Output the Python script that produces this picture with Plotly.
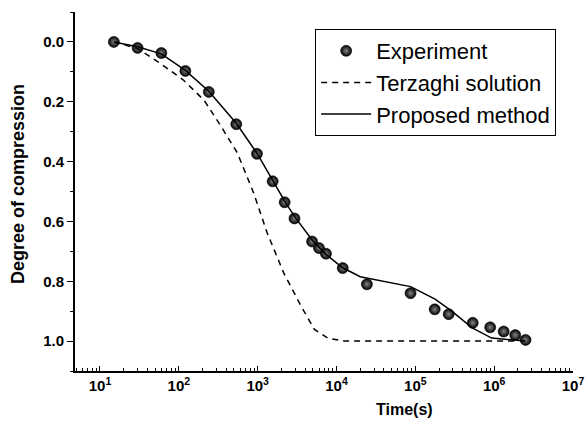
import plotly.graph_objects as go

# Measured consolidation data
exp_time = [15, 30, 60, 121, 240, 535, 980, 1550, 2200, 2930, 4900, 6000, 7350,
            12000, 24300, 87000, 176000, 265000, 535000, 890000, 1.32e6, 1.85e6, 2.5e6]
exp_degree = [0.0, 0.02, 0.037, 0.097, 0.167, 0.275, 0.374, 0.466, 0.536, 0.59, 0.667,
              0.689, 0.708, 0.756, 0.81, 0.84, 0.894, 0.91, 0.939, 0.954, 0.968, 0.98, 0.996]

# Terzaghi one-dimensional consolidation curve
terz_time = [15, 30, 57, 115, 209, 339, 550, 890, 1318, 2140, 3550, 5250, 7760, 12600, 1.82e6]
terz_degree = [0.0, 0.022, 0.07, 0.128, 0.195, 0.28, 0.37, 0.505, 0.638, 0.772, 0.883,
               0.961, 0.99, 1.0, 1.0]

# Proposed method curve
prop_time = [15, 30, 60, 121, 240, 535, 980, 1550, 2200, 2930, 4900, 7350, 12000,
             20000, 35000, 87000, 178000, 290000, 520000, 930000, 2.5e6]
prop_degree = [0.0, 0.016, 0.04, 0.095, 0.165, 0.272, 0.372, 0.462, 0.532, 0.583, 0.662,
               0.71, 0.755, 0.785, 0.797, 0.818, 0.86, 0.9, 0.955, 0.99, 1.0]

y_ticks = [0.0, 0.2, 0.4, 0.6, 0.8, 1.0]
y_ticklabels = ["0.0", "0.2", "0.4", "0.6", "0.8", "1.0"]
y_minor = [-0.1, 0.1, 0.3, 0.5, 0.7, 0.9, 1.1]
x_ticks = [1e1, 1e2, 1e3, 1e4, 1e5, 1e6, 1e7]
x_ticklabels = ["10<sup>1</sup>", "10<sup>2</sup>", "10<sup>3</sup>", "10<sup>4</sup>",
                "10<sup>5</sup>", "10<sup>6</sup>", "10<sup>7</sup>"]

FONT = "Arial, Liberation Sans, sans-serif"

fig = go.Figure()
fig.add_trace(go.Scatter(
    x=exp_time, y=exp_degree, mode="markers", name="Experiment",
    marker=dict(size=11, color="#000000", symbol="circle",
                gradient=dict(type="radial", color="#858585"),
                line=dict(width=0.6, color="#000000")),
))
fig.add_trace(go.Scatter(
    x=terz_time, y=terz_degree, mode="lines", name="Terzaghi solution",
    line=dict(color="#000000", width=1.5, dash="6px,5px"),
))
fig.add_trace(go.Scatter(
    x=prop_time, y=prop_degree, mode="lines", name="Proposed method",
    line=dict(color="#000000", width=1.5),
))

fig.update_layout(
    width=587, height=421,
    margin=dict(l=75, r=14, t=12, b=50),
    paper_bgcolor="white", plot_bgcolor="white",
    font=dict(family=FONT, color="#000000"),
    showlegend=True,
    legend=dict(
        x=(315 - 75) / 497.7, y=1 - (29 - 12) / 359, xanchor="left", yanchor="top",
        bgcolor="white", bordercolor="#000000", borderwidth=1,
        font=dict(family=FONT, size=22, color="#000000"),
        itemwidth=50,
    ),
    xaxis=dict(
        type="log", range=[0.683, 7], automargin=False,
        showgrid=False, zeroline=False,
        showline=True, linecolor="#000000", linewidth=1.8,
        ticks="inside", ticklen=5, tickwidth=1.3, tickcolor="#000000",
        tickvals=x_ticks, ticktext=x_ticklabels,
        tickfont=dict(family=FONT, size=15, color="#000000", weight="bold"),
        minor=dict(ticks="inside", ticklen=3, tickwidth=1.1, tickcolor="#000000",
                   dtick="D1", showgrid=False),
    ),
    yaxis=dict(
        range=[1.1, -0.1], automargin=False,
        showgrid=False, zeroline=False,
        showline=True, linecolor="#000000", linewidth=1.8,
        ticks="outside", ticklen=6, tickwidth=1.3, tickcolor="#000000",
        tickvals=y_ticks, ticktext=y_ticklabels,
        tickfont=dict(family=FONT, size=15, color="#000000", weight="bold"),
        minor=dict(ticks="outside", ticklen=3, tickwidth=1.1, tickcolor="#000000",
                   tickvals=y_minor, showgrid=False),
    ),
    # inner half of the crossing y ticks
    yaxis2=dict(
        overlaying="y", side="left", anchor="x", automargin=False,
        range=[1.1, -0.1], showgrid=False, zeroline=False, showline=False,
        showticklabels=False,
        ticks="inside", ticklen=6, tickwidth=1.3, tickcolor="#000000",
        tickvals=y_ticks,
        minor=dict(ticks="inside", ticklen=3, tickwidth=1.1, tickcolor="#000000",
                   tickvals=y_minor, showgrid=False),
    ),
)

fig.add_annotation(
    text="Time(s)", xref="paper", yref="paper",
    x=(404 - 75) / 497.7, y=-(410 - 371) / 359, xanchor="center", yanchor="middle",
    showarrow=False, font=dict(family=FONT, size=16, color="#000000", weight="bold"),
)
fig.add_annotation(
    text="Degree of compression", xref="paper", yref="paper",
    x=-(75 - 18) / 497.7, y=1 - (184 - 12) / 359, xanchor="center", yanchor="middle",
    textangle=-90, showarrow=False,
    font=dict(family=FONT, size=18, color="#000000", weight="bold"),
)

fig.write_html("out.html")
